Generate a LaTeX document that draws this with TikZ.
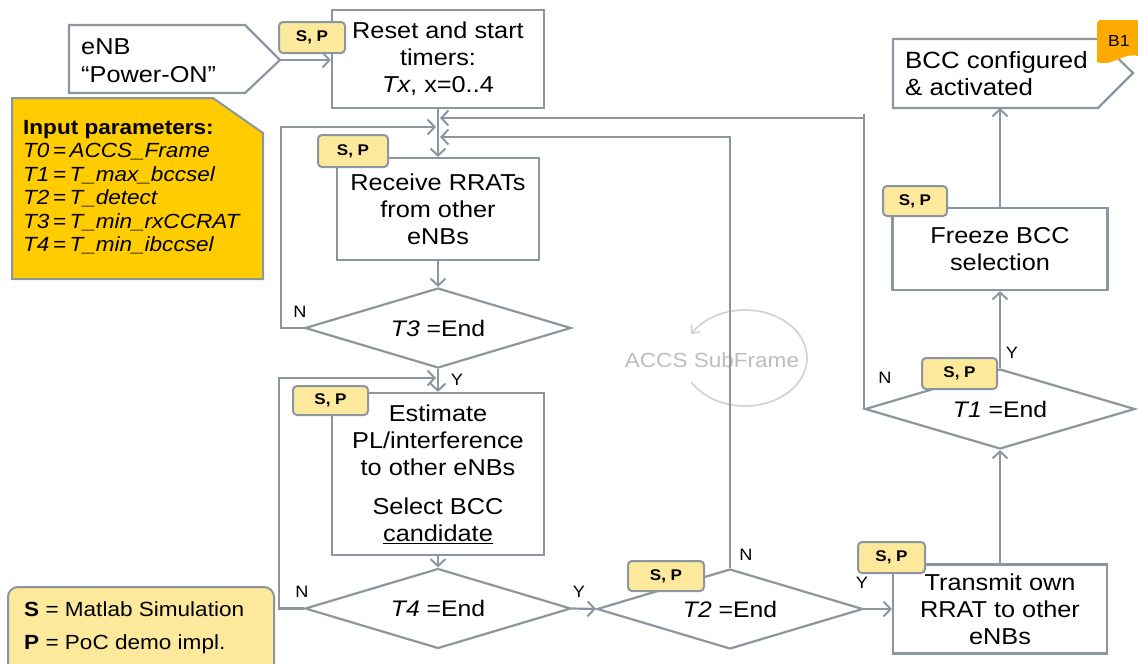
\documentclass[tikz,border=0pt]{standalone}
\usepackage{fontspec}
\setmainfont{Liberation Sans}[FakeStretch=1.1]
\usetikzlibrary{arrows.meta,shapes.geometric}
\definecolor{lc}{HTML}{8C96A0}
\definecolor{tagf}{HTML}{FDE99B}
\definecolor{gold}{HTML}{FFCC00}
\definecolor{orng}{HTML}{FFAA00}
\definecolor{ghostl}{HTML}{D4D4D4}
\definecolor{ghostt}{HTML}{BDBDBD}
\tikzset{
  ln/.style={draw=lc, line width=2.2pt},
  arr/.style={draw=lc, line width=2.2pt, -{Straight Barb[length=7pt,width=15pt,line width=2pt]}},
  box/.style={draw=lc, line width=2.2pt, fill=white, rectangle, align=center, inner sep=0pt, font=\fontsize{23}{27}\selectfont},
  dec/.style={draw=lc, line width=2.2pt, fill=white, diamond, aspect=3.3, inner sep=0pt, minimum width=266pt, minimum height=80pt, font=\fontsize{22.5}{26}\selectfont},
  tagbox/.style={draw=lc, line width=2pt, fill=tagf, rounded corners=4pt, inner sep=0pt, font=\bfseries\fontsize{15.5}{15.5}\selectfont},
  lab/.style={inner sep=0pt, font=\fontsize{16.5}{16.5}\selectfont},
}
\begin{document}
\begin{tikzpicture}[x=1pt,y=-1pt]
\useasboundingbox (0,0) rectangle (1138,664);

% ghost ACCS SubFrame
\node[text=ghostt, inner sep=0pt, font=\fontsize{20.5}{20.5}\selectfont] (accs) at (712,360) {ACCS SubFrame};
\draw[ghostl, line width=1.8pt, -{Straight Barb[length=6pt,width=12pt]}] plot[domain=150:-150, samples=80] ({745+62*cos(\x)},{358+48*sin(\x)});

% Power-ON pentagon
\draw[ln, fill=white] (69,25) -- (245,25) -- (280,60) -- (245,93) -- (69,93) -- cycle;
\coordinate (powtip) at (280,60);
\node[anchor=west, align=left, inner sep=0pt, font=\fontsize{23}{28}\selectfont] (power) at (81,61) {eNB\\“Power-ON”};

% Input parameters
\draw[draw=lc, line width=2pt, fill=gold] (12,98) -- (213,98) -- (263,133) -- (263,279) -- (12,279) -- cycle;
\node[anchor=west, align=left, inner sep=0pt, font=\fontsize{20.5}{23.5}\selectfont] (params) at (23,187)
 {\textbf{Input parameters:}\\
  \textit{T0\,=\,ACCS\_Frame}\\
  \textit{T1\,=\,T\_max\_bccsel}\\
  \textit{T2\,=\,T\_detect}\\
  \textit{T3\,=\,T\_min\_rxCCRAT}\\
  \textit{T4\,=\,T\_min\_ibccsel}};

% Legend
\draw[draw=lc, line width=2pt, fill=tagf, rounded corners=10pt] (8,587) rectangle (274,690);
\node[anchor=west, align=left, inner sep=0pt, font=\fontsize{20.5}{33}\selectfont] (legend) at (24,628)
 {\textbf{S} = Matlab Simulation\\\textbf{P} = PoC demo impl.};

% main boxes
\node[box, minimum width=212pt, minimum height=98pt] (reset) at (438,59) {Reset and start\\timers:\\\textit{Tx}, x=0..4};
\node[box, minimum width=202pt, minimum height=102pt] (receive) at (438,209) {Receive RRATs\\from other\\eNBs};
\node[dec] (T3) at (438,328) {\textit{T3} =End};
\node[box, minimum width=212pt, minimum height=162pt] (estimate) at (438,474) {Estimate\\PL/interference\\to other eNBs\\[12pt]Select BCC\\\underline{candidate}};
\node[dec] (T4) at (438,608.5) {\textit{T4} =End};
\node[dec] (T2) at (730,609) {\textit{T2} =End};
\node[box, minimum width=214pt, minimum height=89pt] (transmit) at (1000,609) {Transmit own\\RRAT to other\\eNBs};
\node[dec, minimum width=270pt] (T1) at (1000,409) {\textit{T1} =End};
\node[box, minimum width=215pt, minimum height=82pt] (freeze) at (1000,249) {Freeze BCC\\selection};

% BCC configured pentagon
\draw[ln, fill=white] (893,39) -- (1098,39) -- (1133,73) -- (1098,108) -- (893,108) -- cycle;
\coordinate (bccbot) at (1000,108);
\node[anchor=west, align=left, inner sep=0pt, font=\fontsize{23.5}{27}\selectfont] (bcc) at (905,74) {BCC configured\\\& activated};
\fill[orng] (1097,62) -- (1097,25) .. controls (1097,21) and (1098,20) .. (1102,20) -- (1140,20) -- (1140,57) .. controls (1125,50) and (1112,68) .. (1097,62) -- cycle;
\node[inner sep=0pt, font=\fontsize{16}{16}\selectfont] (b1) at (1119,41) {B1};

% merge coordinates
\coordinate (mA) at (440,118);
\coordinate (mB) at (440,137);
\coordinate (mC) at (436,127);
\coordinate (mD) at (436,378);

% connectors
\draw[arr] (powtip) -- (reset.west |- powtip);
\draw[arr] (reset.south) -- (receive.north);
\draw[arr] (receive.south) -- (T3.north);
\draw[arr] (T3.west) -- ++(-23,0) |- (mC);
\draw[arr] (T3.south) -- (estimate.north);
\draw[arr] (estimate.south) -- (T4.north);
\draw[arr] (T4.west) -- ++(-25,0) |- (mD);
\draw[arr] (T4.east) -- (T2.west);
\draw[arr] (T2.north) |- (mB);
\draw[arr] (T2.east) -- (transmit.west);
\draw[arr] (transmit.north) -- (T1.south);
\draw[arr] (T1.north) -- (freeze.south);
\draw[arr] (T1.west) |- (mA);
\draw[ln] (T1.west |- mA) -- ++(0,-4);
\draw[arr] (freeze.north) -- (bccbot);

% labels
\node[lab] (nT3) at (300,312) {N};
\node[lab] (yT3) at (457,380) {Y};
\node[lab] (nT4) at (302,592) {N};
\node[lab] (yT4) at (579,592) {Y};
\node[lab] (nT2) at (746,555) {N};
\node[lab] (yT2) at (862,583) {Y};
\node[lab] (nT1) at (885,378) {N};
\node[lab] (yT1) at (1012,353) {Y};

% S,P tags
\node[tagbox, minimum width=66pt, minimum height=31pt] (tReset) at (312,37.5) {S, P};
\node[tagbox, minimum width=70pt, minimum height=32pt] (tReceive) at (353,151) {S, P};
\node[tagbox, minimum width=75pt, minimum height=29pt] (tEstimate) at (330.5,400.5) {S, P};
\node[tagbox, minimum width=76pt, minimum height=30pt] (tT2) at (666,576) {S, P};
\node[tagbox, minimum width=67pt, minimum height=31pt] (tTransmit) at (891.5,557.5) {S, P};
\node[tagbox, minimum width=75pt, minimum height=31pt] (tT1) at (959.5,373.5) {S, P};
\node[tagbox, minimum width=64pt, minimum height=30pt] (tFreeze) at (915,201) {S, P};
\end{tikzpicture}
\end{document}
